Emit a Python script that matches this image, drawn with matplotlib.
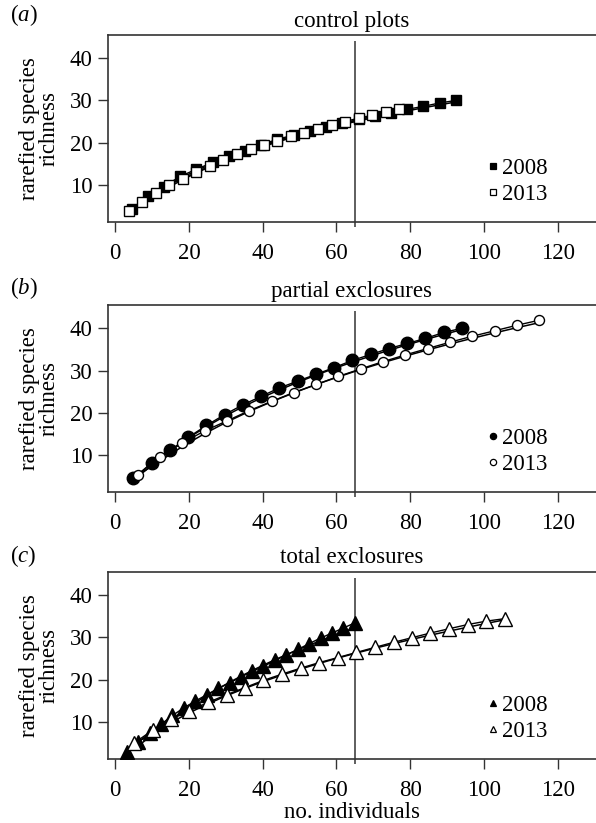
import numpy as np
import matplotlib
matplotlib.use("Agg")
import matplotlib.pyplot as plt

plt.rcParams['font.family'] = ['Liberation Serif', 'DejaVu Serif']
plt.rcParams['mathtext.fontset'] = 'custom'
plt.rcParams['mathtext.rm'] = 'Liberation Serif'
plt.rcParams['mathtext.it'] = 'Liberation Serif:italic'

# ---------------- data ----------------
titles = ["control plots", "partial exclosures", "total exclosures"]
panel_letters = ["a", "b", "c"]
years = ["2008", "2013"]
rarefaction_cutoff = 65

# (a) control plots
ctrl_2008_x = [4.4, 8.8, 13.2, 17.6, 22.0, 26.4, 30.8, 35.2, 39.6, 44.0, 48.4,
               52.8, 57.2, 61.6, 66.0, 70.4, 74.8, 79.2, 83.6, 88.0, 92.4]
ctrl_2008_y = [4.3, 7.3, 9.6, 12.0, 13.7, 15.3, 16.9, 18.1, 19.5, 20.8, 21.8,
               22.8, 23.7, 24.6, 25.5, 26.3, 27.0, 27.9, 28.6, 29.4, 30.0]
ctrl_2013_x = [3.7, 7.3, 11.0, 14.7, 18.3, 22.0, 25.7, 29.3, 33.0, 36.7, 40.3,
               44.0, 47.7, 51.3, 55.0, 58.7, 62.3, 66.0, 69.7, 73.3, 77.0]
ctrl_2013_y = [3.7, 6.0, 8.0, 10.0, 11.5, 13.0, 14.5, 16.0, 17.2, 18.4, 19.5,
               20.5, 21.5, 22.4, 23.3, 24.2, 25.0, 25.8, 26.5, 27.3, 28.0]

# (b) partial exclosures
part_2008_x = [4.9, 9.9, 14.8, 19.8, 24.7, 29.7, 34.6, 39.6, 44.5, 49.5,
               54.4, 59.4, 64.3, 69.3, 74.2, 79.2, 84.1, 89.1, 94.0]
part_2008_y = [4.5, 8.2, 11.1, 14.2, 17.0, 19.6, 21.9, 23.9, 25.9, 27.5,
               29.1, 30.7, 32.4, 33.8, 35.2, 36.4, 37.6, 39.0, 40.0]
part_2013_x = [6.05, 12.1, 18.2, 24.2, 30.3, 36.3, 42.4, 48.4, 54.5, 60.5,
               66.6, 72.6, 78.7, 84.7, 90.8, 96.8, 102.9, 108.9, 115.0]
part_2013_y = [5.3, 9.5, 12.9, 15.7, 18.1, 20.5, 22.7, 24.8, 26.7, 28.6,
               30.4, 32.1, 33.7, 35.2, 36.7, 38.1, 39.4, 40.7, 41.9]

# (c) total exclosures
tot_2008_x = [3.1, 6.2, 9.3, 12.4, 15.5, 18.6, 21.7, 24.8, 27.9, 31.0, 34.1,
              37.1, 40.2, 43.3, 46.4, 49.5, 52.6, 55.7, 58.8, 61.9, 65.0]
tot_2008_y = [2.9, 5.2, 7.3, 9.4, 11.5, 13.3, 14.9, 16.4, 17.9, 19.2, 20.6,
              21.9, 23.1, 24.5, 25.8, 27.1, 28.5, 29.8, 31.0, 32.2, 33.4]
tot_2013_x = [5.0, 10.1, 15.1, 20.1, 25.2, 30.2, 35.2, 40.2, 45.3, 50.3, 55.3,
              60.4, 65.4, 70.4, 75.5, 80.5, 85.5, 90.5, 95.6, 100.6, 105.7]
tot_2013_y = [4.9, 8.0, 10.6, 12.6, 14.6, 16.4, 18.1, 19.8, 21.3, 22.7, 24.0,
              25.2, 26.4, 27.6, 28.8, 29.9, 31.0, 32.0, 33.0, 33.8, 34.4]

x_ticks = [0, 20, 40, 60, 80, 100, 120]
y_ticks = [10, 20, 30, 40]

panels = [
    (ctrl_2008_x, ctrl_2008_y, ctrl_2013_x, ctrl_2013_y, 's'),
    (part_2008_x, part_2008_y, part_2013_x, part_2013_y, 'o'),
    (tot_2008_x, tot_2008_y, tot_2013_x, tot_2013_y, '^'),
]

# ---------------- figure ----------------
W, H = 596, 823
fig = plt.figure(figsize=(W / 100, H / 100), dpi=100)
FS = 16.5
spine_col = '#333333'

left_px = 107.7
axes_px = [(35, 222), (305, 492.3), (571.7, 759)]
letter_y = [15, 288, 556]

msize = {'s': 7.6, 'o': 9.0, '^': 9.5}
msize_open = {'s': 7.6, 'o': 7.2, '^': 9.5}

for i, (x08, y08, x13, y13, mk) in enumerate(panels):
    top, bot = axes_px[i]
    ax = fig.add_axes([left_px / W, 1 - bot / H, (W - left_px) / W, (bot - top) / H])
    ax.set_xlim(-2.06, 130.4)
    ax.set_ylim(1.2, 45.5)

    for xs, ys, filled, lab in [(x08, y08, True, years[0]), (x13, y13, False, years[1])]:
        xs = np.asarray(xs); ys = np.asarray(ys)
        # smooth fitted curve through the points (quadratic in log x)
        coef = np.polyfit(np.log(xs), ys, 2)
        xf = np.linspace(xs.min(), xs.max(), 200)
        ax.plot(xf, np.polyval(coef, np.log(xf)) - 0.35, color='black', lw=1.1, zorder=2)
        ax.plot(xs, ys, color='black', lw=1.0, zorder=2.5)
        ax.plot(xs, ys, linestyle='none', marker=mk,
                markersize=msize[mk] if filled else msize_open[mk],
                markerfacecolor='black' if filled else 'white',
                markeredgecolor='black', markeredgewidth=1.0, zorder=3)
        # legend handle
        ax.plot([], [], linestyle='none', marker=mk, markersize=4.5,
                markerfacecolor='black' if filled else 'white',
                markeredgecolor='black', markeredgewidth=0.9, label=lab)

    ax.vlines(rarefaction_cutoff, 0, 44, color=spine_col, lw=1.1, clip_on=False, zorder=1)

    ax.set_xticks(x_ticks)
    ax.set_yticks(y_ticks)
    ax.tick_params(direction='out', length=7, width=1.0, color=spine_col,
                   labelsize=FS)
    ax.tick_params(axis='x', pad=8)
    ax.tick_params(axis='y', pad=4)
    for s in ['left', 'bottom', 'top']:
        ax.spines[s].set_color(spine_col)
        ax.spines[s].set_linewidth(1.2)
    ax.spines['right'].set_visible(False)

    ax.set_title(titles[i], fontsize=FS, pad=6)
    ax.set_ylabel('rarefied species\nrichness', fontsize=FS, labelpad=7, linespacing=0.95)

    ax.legend(loc='center left', bbox_to_anchor=(0.777, 0.217), frameon=False,
              fontsize=FS, handlelength=0.55, handletextpad=0.12,
              labelspacing=0.2, borderpad=0, borderaxespad=0)

    fig.text(10 / W, 1 - letter_y[i] / H, r'($\mathit{%s}$)' % panel_letters[i],
             fontsize=FS, ha='left', va='center')

    if i == 2:
        ax.set_xlabel('no. individuals', fontsize=FS, labelpad=1)

fig.savefig('out.png', dpi=100)
